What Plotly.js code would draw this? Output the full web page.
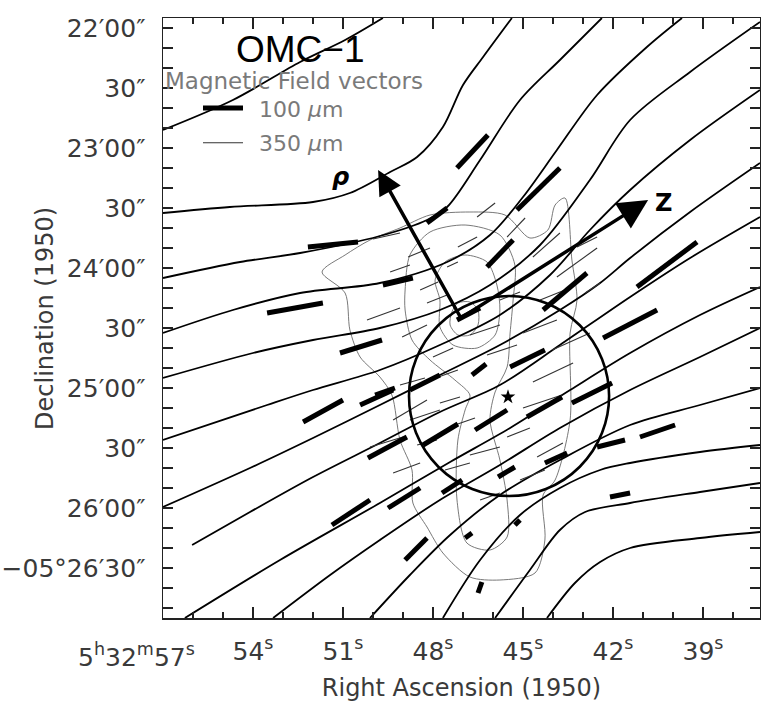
<!DOCTYPE html>
<html>
<head>
<meta charset="utf-8">
<script src="https://cdn.plot.ly/plotly-3.0.1.min.js"></script>
<style>html,body{margin:0;padding:0;background:#fff;}#chart{width:761px;height:704px;}</style>
</head>
<body>
<div id="chart"></div>
<script>
// ---- Data: RA in seconds of time (5h32m + s), Dec in arcsec of -05° (22'00" = 1320) ----
// Field lines
const L01_ra  = [57.00, 54.67, 52.43, 50.93, 49.67];
const L01_dec = [1371, 1356, 1337, 1326, 1315];
const L02_ra  = [57.00, 54.77, 52.00, 50.77, 49.43, 48.53, 47.67, 47.00, 46.33, 45.37];
const L02_dec = [1412.5, 1409.5, 1407, 1402.5, 1392, 1384.5, 1369.5, 1348.5, 1334.5, 1315];
const L03_ra  = [57.00, 54.43, 52.43, 49.77, 48.20, 47.53, 46.43, 45.10, 43.77, 42.37];
const L03_dec = [1445, 1437, 1432.5, 1424, 1416, 1409.5, 1386, 1356, 1336, 1315];
const L04_ra  = [57.00, 54.67, 52.43, 49.77, 47.53, 46.10, 45.00, 43.87, 42.53, 40.87, 39.70];
const L04_dec = [1472.5, 1461, 1452.5, 1447.5, 1437, 1423.5, 1404.5, 1381, 1353.5, 1329.5, 1315];
const L05_ra  = [57.00, 54.00, 52.00, 49.77, 47.77, 46.10, 44.43, 42.77, 41.43, 39.43, 37.10];
const L05_dec = [1495, 1482.5, 1476, 1470, 1461, 1448.5, 1428.5, 1396, 1366, 1342, 1317];
const L06_ra  = [57.00, 53.53, 52.00, 49.77, 47.77, 45.77, 44.10, 42.77, 41.43, 39.43, 37.10];
const L06_dec = [1526, 1508.5, 1501, 1491, 1478.5, 1463.5, 1443.5, 1421, 1401, 1376, 1351];
const L07_ra  = [57.00, 54.10, 52.00, 49.77, 47.77, 45.77, 43.77, 42.43, 41.43, 39.43, 37.10];
const L07_dec = [1559.5, 1540, 1525, 1508.5, 1493.5, 1478.5, 1461, 1447.5, 1435, 1412, 1387.5];
const L08_ra  = [56.03, 54.10, 52.00, 49.77, 47.77, 45.77, 43.77, 41.43, 39.43, 37.10];
const L08_dec = [1578.5, 1562, 1544.5, 1527.5, 1512, 1498.5, 1478.5, 1454.5, 1435, 1414.5];
const L09_ra  = [56.27, 53.10, 49.77, 47.43, 45.43, 43.43, 41.43, 39.10, 37.10];
const L09_dec = [1615, 1586, 1557.5, 1537, 1520, 1501, 1482.5, 1463.5, 1449.5];
const L10_ra  = [53.33, 51.43, 49.77, 47.77, 45.77, 43.77, 41.43, 39.10, 37.10];
const L10_dec = [1615, 1593.5, 1576, 1556, 1538.5, 1520, 1501, 1484.5, 1470];
const L11_ra  = [50.10, 48.77, 47.43, 45.77, 43.77, 41.43, 39.10, 37.10];
const L11_dec = [1615, 1593.5, 1573.5, 1553.5, 1536, 1518.5, 1508.5, 1500];
const L12_ra  = [47.67, 46.43, 45.10, 43.77, 42.43, 41.43, 39.10, 37.10];
const L12_dec = [1615, 1586, 1563.5, 1550, 1541, 1537.5, 1532, 1528.5];
const L13_ra  = [45.93, 44.77, 43.77, 42.93, 41.43, 39.10, 37.10];
const L13_dec = [1615, 1591, 1571, 1562, 1557.5, 1552, 1547.5];
const L14_ra  = [44.20, 43.27, 42.43, 41.43, 39.10, 37.10];
const L14_dec = [1615, 1597.5, 1587, 1580, 1575, 1572];

// 100 um polarization (B-field) vectors: start / end
const v100_ra1  = [53.53, 52.17, 47.20, 45.20, 48.20, 46.20, 49.67, 44.33, 41.20, 42.33, 41.10, 43.37, 44.87, 46.60, 45.43, 46.70, 48.33, 49.93, 42.53, 42.10, 44.27, 45.83, 47.70, 49.50, 48.93, 46.93, 46.50, 51.37, 52.33, 51.10, 50.43, 48.77, 50.17, 47.20, 45.27];
const v100_dec1 = [1462.5, 1429.5, 1390, 1411, 1417.5, 1439.5, 1448.5, 1461, 1449.5, 1475, 1524.5, 1507.5, 1514.5, 1521, 1489.5, 1493.5, 1528.5, 1503.5, 1529.5, 1554.5, 1537.5, 1544.5, 1552.5, 1560, 1586, 1575, 1602.5, 1568.5, 1517, 1482.5, 1508.5, 1501, 1535, 1466, 1568.5];
const v100_ra2  = [51.67, 50.50, 46.17, 43.77, 47.53, 45.33, 48.67, 42.87, 39.20, 40.53, 39.93, 42.03, 43.70, 45.53, 44.27, 46.23, 47.17, 49.27, 41.60, 41.43, 43.53, 45.27, 47.03, 48.43, 48.20, 46.70, 46.37, 50.10, 51.00, 49.70, 49.33, 47.77, 48.87, 46.43, 45.10];
const v100_dec2 = [1457.5, 1427, 1373.5, 1390, 1410, 1426, 1445, 1442.5, 1427, 1461, 1518.5, 1497.5, 1504.5, 1511, 1481, 1488, 1518, 1500, 1526, 1552.5, 1532.5, 1539.5, 1546, 1550, 1575, 1572.5, 1597, 1556, 1506, 1476, 1501, 1493.5, 1524.5, 1460, 1566];

// 350 um vectors: start / end
const v350_ra1  = [50.00, 48.83, 48.20, 47.53, 47.17, 46.53, 45.53, 44.67, 43.87, 50.20, 49.03, 48.00, 49.33, 47.77, 50.10, 49.33, 45.00, 44.03, 44.67, 45.00, 45.53, 44.53, 46.77, 46.20, 48.10, 49.10, 48.77, 46.77, 47.60, 48.53, 48.43, 49.43, 42.93, 43.20, 44.43, 45.77, 47.27, 45.10, 46.43];
const v350_dec1 = [1425.5, 1434.5, 1457.5, 1439.5, 1429.5, 1414.5, 1424.5, 1434.5, 1444.5, 1466, 1474.5, 1484.5, 1516, 1507.5, 1529.5, 1542.5, 1472.5, 1481, 1497, 1510, 1524.5, 1534.5, 1473.5, 1483.5, 1496, 1498.5, 1516, 1533.5, 1541, 1528.5, 1451, 1442, 1452.5, 1429.5, 1456, 1456, 1518.5, 1546, 1556];
const v350_ra2  = [49.10, 48.10, 47.53, 47.17, 46.53, 45.93, 44.93, 43.77, 42.53, 49.10, 48.20, 47.33, 48.20, 47.10, 49.00, 48.43, 43.87, 42.77, 43.33, 43.70, 44.77, 43.67, 45.77, 45.20, 47.17, 48.27, 47.77, 45.77, 46.77, 47.87, 47.83, 48.77, 42.43, 42.53, 43.60, 45.10, 46.60, 44.27, 45.77];
const v350_dec2 = [1422.5, 1430, 1453.5, 1437, 1424.5, 1407.5, 1415, 1422.5, 1430, 1460, 1468.5, 1480, 1506, 1504.5, 1524.5, 1537.5, 1466, 1472.5, 1487.5, 1503.5, 1520, 1527.5, 1468.5, 1478.5, 1491, 1495, 1511, 1529.5, 1537.5, 1526, 1447, 1438.5, 1447.5, 1424.5, 1451, 1452, 1515, 1541, 1552.5];

// 350 um intensity contours
const C1_ra  = [47.37, 47.17, 46.77, 46.50, 46.50, 46.77, 47.17, 47.43, 47.37];
const C1_dec = [1462, 1457.5, 1457, 1461, 1468.5, 1473.5, 1473.5, 1468.5, 1462];
const C2_ra  = [47.77, 47.93, 47.60, 46.93, 46.20, 45.87, 45.77, 45.93, 46.53, 47.33, 47.77, 47.77];
const C2_dec = [1456, 1446, 1437, 1433.5, 1437, 1448.5, 1461, 1473.5, 1480, 1478.5, 1469.5, 1456];
const C3_ra  = [48.93, 48.77, 48.10, 46.93, 45.77, 45.27, 45.33, 45.43, 45.53, 45.93, 46.10, 45.77, 45.53, 45.53, 46.10, 46.87, 47.20, 47.17, 46.93, 46.77, 47.27, 48.10, 48.70, 48.93, 48.93];
const C3_dec = [1451, 1433.5, 1422, 1418.5, 1423.5, 1438.5, 1456, 1472.5, 1489.5, 1502, 1516, 1536, 1556, 1574.5, 1581, 1577.5, 1556, 1526, 1511, 1503.5, 1496, 1486, 1476, 1461, 1451];
const C4_ra  = [51.70, 50.93, 50.77, 50.43, 49.77, 49.37, 49.10, 48.70, 48.67, 48.20, 47.67, 46.77, 45.77, 44.60, 44.27, 44.33, 43.93, 43.43, 43.43, 43.20, 43.37, 43.60, 43.93, 44.17, 44.77, 45.60, 46.77, 48.10, 49.10, 50.10, 50.93, 51.70];
const C4_dec = [1442, 1452.5, 1471, 1484.5, 1494.5, 1503.5, 1526, 1541, 1557.5, 1569.5, 1582.5, 1594.5, 1596, 1592.5, 1576, 1553.5, 1546, 1516, 1472.5, 1456, 1436, 1405, 1408.5, 1421, 1425, 1413.5, 1412, 1413.5, 1420, 1426, 1433.5, 1442];

// Source (star), region circle, axes directions
const starRA = [45.50], starDec = [1504.5];
const circleRA = [48.80, 42.13], circleDec = [1454, 1554];
const arrowBase = [47.07, 1465];
const rhoTip = [49.83, 1391];
const zTip = [40.83, 1406];
const rhoLabelPos = [51.10, 1394.5];
const zLabelPos = [40.33, 1407.5];

// Tick labels
const xTickVals = [54, 51, 48, 45, 42, 39];
const xTickText = ['54<sup>s</sup>', '51<sup>s</sup>', '48<sup>s</sup>', '45<sup>s</sup>', '42<sup>s</sup>', '39<sup>s</sup>'];
const xFirstLabel = '5<sup>h</sup>32<sup>m</sup>57<sup>s</sup>';
const yLabelVals = [1320, 1350, 1380, 1410, 1440, 1470, 1500, 1530, 1560, 1590];
const yLabelText = ['22′00″', '30″', '23′00″', '30″', '24′00″', '30″', '25′00″', '30″', '26′00″', '−05°26′30″'];

// ---- Build traces ----
function joinLines(pairs) {
  const x = [], y = [];
  pairs.forEach(([a, b], i) => { if (i) { x.push(null); y.push(null); } x.push(...a); y.push(...b); });
  return { x, y };
}
function joinSegs(x1, y1, x2, y2) {
  const x = [], y = [];
  for (let i = 0; i < x1.length; i++) { x.push(x1[i], x2[i], null); y.push(y1[i], y2[i], null); }
  return { x, y };
}
const fieldPairs = [[L01_ra, L01_dec], [L02_ra, L02_dec], [L03_ra, L03_dec], [L04_ra, L04_dec], [L05_ra, L05_dec], [L06_ra, L06_dec], [L07_ra, L07_dec], [L08_ra, L08_dec], [L09_ra, L09_dec], [L10_ra, L10_dec], [L11_ra, L11_dec], [L12_ra, L12_dec], [L13_ra, L13_dec], [L14_ra, L14_dec]];
const traces = [];
const contours = joinLines([[C1_ra, C1_dec], [C2_ra, C2_dec], [C3_ra, C3_dec], [C4_ra, C4_dec]]);
traces.push({ type: 'scatter', mode: 'lines', x: contours.x, y: contours.y, line: { color: '#6a6a6a', width: 0.9, shape: 'spline', smoothing: 0.8 }, hoverinfo: 'skip', showlegend: false });
fieldPairs.forEach(([a, b]) => traces.push({ type: 'scatter', mode: 'lines', x: a, y: b, line: { color: '#000', width: 1.8, shape: 'spline', smoothing: 0.9 }, hoverinfo: 'skip', showlegend: false }));
const thin = joinSegs(v350_ra1, v350_dec1, v350_ra2, v350_dec2);
traces.push({ type: 'scatter', mode: 'lines', x: thin.x, y: thin.y, line: { color: '#333', width: 1.1 }, hoverinfo: 'skip', showlegend: false });
const thick = joinSegs(v100_ra1, v100_dec1, v100_ra2, v100_dec2);
traces.push({ type: 'scatter', mode: 'lines', x: thick.x, y: thick.y, line: { color: '#000', width: 5 }, hoverinfo: 'skip', showlegend: false });
traces.push({ type: 'scatter', mode: 'markers', x: starRA, y: starDec, marker: { symbol: 'star', size: 11, color: '#000' }, hoverinfo: 'skip', showlegend: false });

const FONT = 'DejaVu Sans, Liberation Sans, sans-serif';
const tickCol = '#3a3a3a';
const layout = {
  width: 761, height: 704,
  margin: { l: 163, r: 1, t: 18, b: 86 },
  paper_bgcolor: '#fff', plot_bgcolor: '#fff',
  showlegend: false,
  xaxis: {
    range: [57, 37.1], showgrid: false, zeroline: false,
    showline: true, linecolor: '#222', linewidth: 1.5, mirror: 'ticks',
    ticks: 'inside', ticklen: 11, tickwidth: 1.3, tickcolor: '#222',
    tickmode: 'array', tickvals: xTickVals, ticktext: xTickText,
    tickfont: { family: FONT, size: 25, color: tickCol },
    ticklabelstandoff: 10,
    minor: { ticks: 'inside', ticklen: 6, tickwidth: 1.2, tickcolor: '#222', tickmode: 'linear', tick0: 57, dtick: 1 },
    title: { text: 'Right Ascension (1950)', font: { family: FONT, size: 24, color: tickCol }, standoff: 14 }
  },
  yaxis: {
    range: [1615, 1315], showgrid: false, zeroline: false,
    showline: true, linecolor: '#222', linewidth: 1.5, mirror: 'ticks',
    ticks: 'inside', ticklen: 10, tickwidth: 1.3, tickcolor: '#222',
    tickmode: 'array', tickvals: yLabelVals, ticktext: yLabelText,
    tickfont: { family: FONT, size: 25, color: tickCol },
    ticklabelstandoff: 11,
    minor: { ticks: 'inside', ticklen: 10, tickwidth: 1.2, tickcolor: '#222', tickmode: 'linear', tick0: 1320, dtick: 10 }
  },
  shapes: [
    { type: 'circle', xref: 'x', yref: 'y', x0: circleRA[0], x1: circleRA[1], y0: circleDec[0], y1: circleDec[1], line: { color: '#000', width: 2.6 } },
    { type: 'line', xref: 'paper', yref: 'paper', x0: 0.067, x1: 0.134, y0: 0.85, y1: 0.85, line: { color: '#000', width: 5 } },
    { type: 'line', xref: 'paper', yref: 'paper', x0: 0.067, x1: 0.134, y0: 0.792, y1: 0.792, line: { color: '#333', width: 1.1 } }
  ],
  annotations: [
    { xref: 'paper', yref: 'paper', x: 0.2295, y: 0.947, xanchor: 'center', yanchor: 'middle', text: 'OMC−1', showarrow: false, font: { family: 'Liberation Sans Narrow, Liberation Sans, sans-serif', size: 37, color: '#000' } },
    { xref: 'paper', yref: 'paper', x: 0.0, y: 0.8958, xanchor: 'left', yanchor: 'middle', text: 'Magnetic Field vectors', showarrow: false, font: { family: FONT, size: 23, color: '#7a7a7a' } },
    { xref: 'paper', yref: 'paper', x: 0.1575, y: 0.8467, xanchor: 'left', yanchor: 'middle', text: '100 <i>μ</i>m', showarrow: false, font: { family: FONT, size: 22, color: '#7a7a7a' } },
    { xref: 'paper', yref: 'paper', x: 0.1575, y: 0.79, xanchor: 'left', yanchor: 'middle', text: '350 <i>μ</i>m', showarrow: false, font: { family: FONT, size: 22, color: '#7a7a7a' } },
    { xref: 'paper', yref: 'paper', x: 0.057, y: -0.062, xanchor: 'right', yanchor: 'middle', text: xFirstLabel, showarrow: false, font: { family: FONT, size: 25, color: tickCol } },
    { xref: 'paper', yref: 'paper', x: -0.1977, y: 0.5, xanchor: 'center', yanchor: 'middle', textangle: -90, text: 'Declination (1950)', showarrow: false, font: { family: FONT, size: 24, color: tickCol } },
    { x: rhoTip[0], y: rhoTip[1], ax: arrowBase[0], ay: arrowBase[1], axref: 'x', ayref: 'y', xref: 'x', yref: 'y', text: '', showarrow: true, arrowhead: 2, arrowsize: 1.4, arrowwidth: 3.5, arrowcolor: '#000', standoff: 0, startstandoff: 0 },
    { x: zTip[0], y: zTip[1], ax: arrowBase[0], ay: arrowBase[1], axref: 'x', ayref: 'y', xref: 'x', yref: 'y', text: '', showarrow: true, arrowhead: 2, arrowsize: 1.7, arrowwidth: 3.5, arrowcolor: '#000', standoff: 0, startstandoff: 0 },
    { x: rhoLabelPos[0], y: rhoLabelPos[1], xref: 'x', yref: 'y', xanchor: 'center', yanchor: 'middle', text: '<b><i>ρ</i></b>', showarrow: false, font: { family: FONT, size: 24, color: '#000' } },
    { x: zLabelPos[0], y: zLabelPos[1], xref: 'x', yref: 'y', xanchor: 'center', yanchor: 'middle', text: '<b>Z</b>', showarrow: false, font: { family: FONT, size: 24, color: '#000' } }
  ]
};
Plotly.newPlot('chart', traces, layout, { displayModeBar: false, staticPlot: true });
</script>
</body>
</html>
